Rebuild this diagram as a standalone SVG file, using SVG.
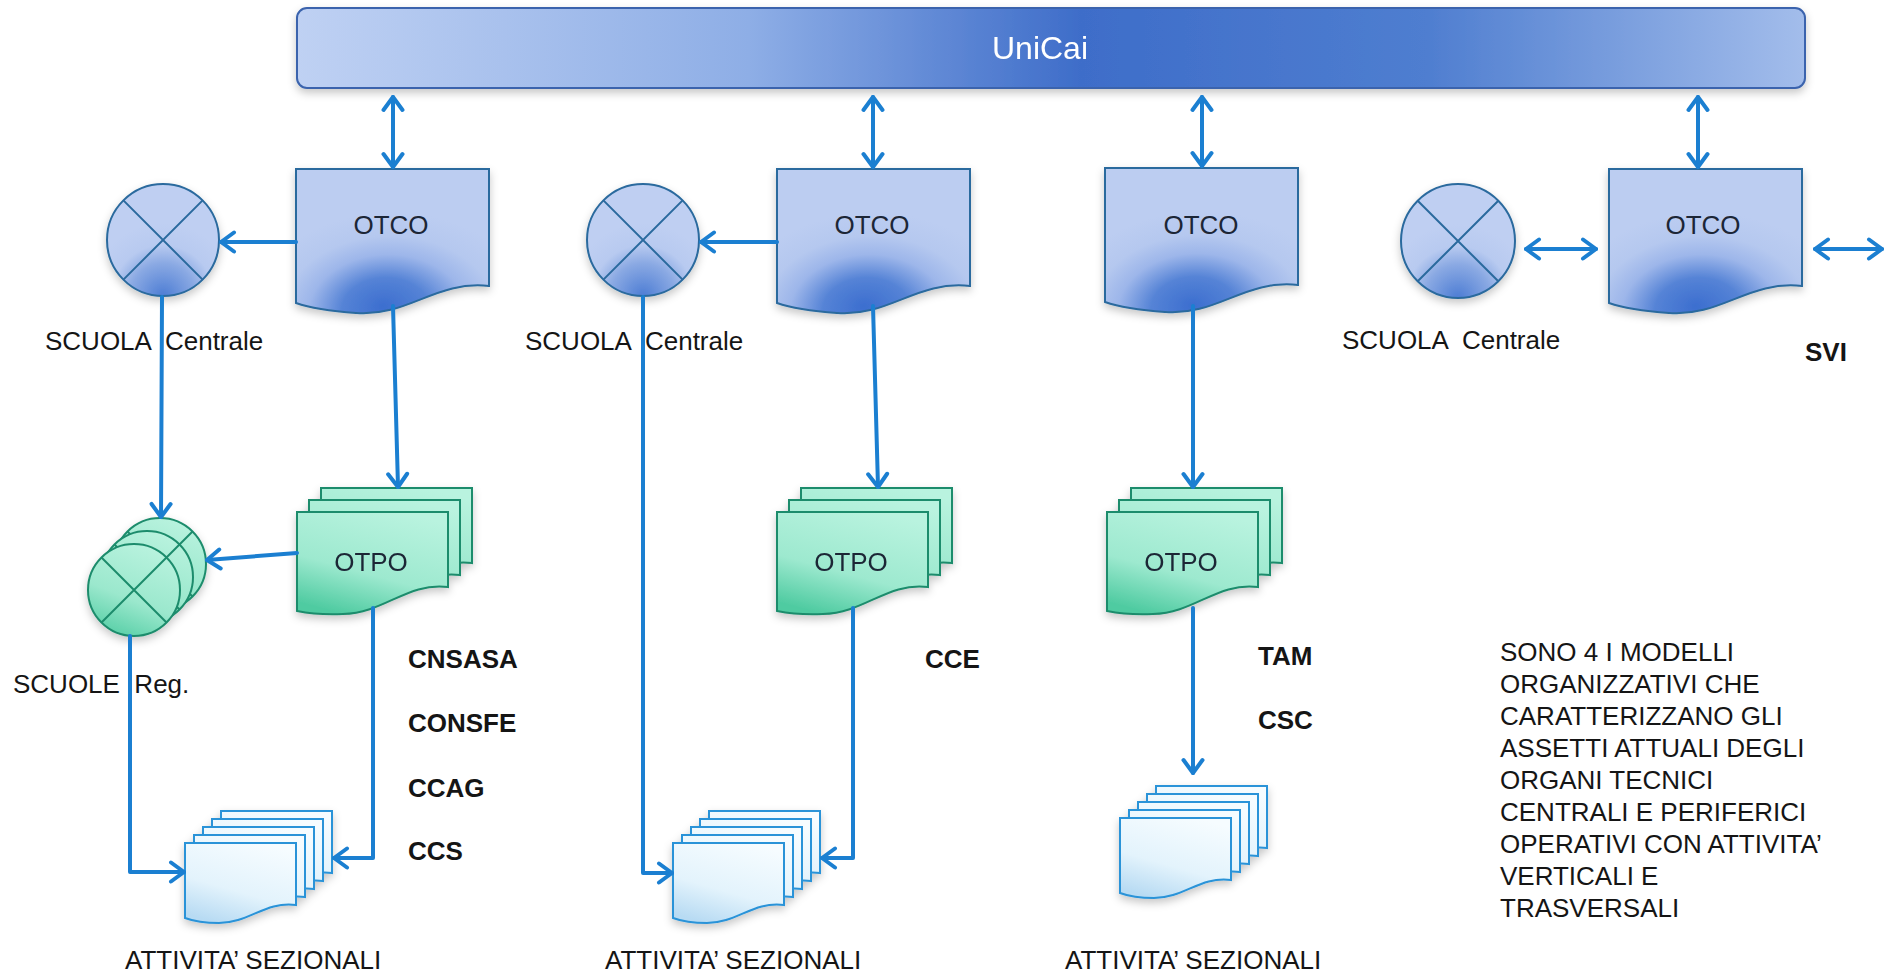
<svg xmlns="http://www.w3.org/2000/svg" xmlns:xlink="http://www.w3.org/1999/xlink" width="1887" height="975" viewBox="0 0 1887 975">
<style>
.lbl{font-family:"Liberation Sans",Arial,Helvetica,sans-serif;font-size:26px;fill:#151515;white-space:pre}
.b{font-weight:bold}
.in{font-family:"Liberation Sans",Arial,sans-serif;font-size:26px;fill:#1c2636;text-anchor:middle}
.conn{fill:none;stroke:#1b7fd1;stroke-width:4;stroke-linecap:round;stroke-linejoin:round}
.otco{fill:url(#gOtco);stroke:#2b6a9e;stroke-width:2}
.xc{fill:url(#gCirc);stroke:#2b6a9e;stroke-width:2}
.xl{fill:none;stroke:#2b6a9e;stroke-width:2}
.otpo{fill:url(#gOtpo);stroke:#1d8c6c;stroke-width:2}
.gc{fill:url(#gGreen);stroke:#1d8c6c;stroke-width:2}
.gl{fill:none;stroke:#1d8c6c;stroke-width:2}
.att{fill:url(#gAtt);stroke:#2a93d8;stroke-width:2}
</style>
<defs>
<linearGradient id="gBar" x1="0" y1="0" x2="1" y2="0">
<stop offset="0" stop-color="#bfd1f3"/>
<stop offset="0.3" stop-color="#8eaee6"/>
<stop offset="0.52" stop-color="#3e6dc9"/>
<stop offset="0.75" stop-color="#4f7ed0"/>
<stop offset="1" stop-color="#a3bdeb"/>
</linearGradient>
<radialGradient id="gOtco" cx="0.5" cy="1.05" r="0.75" fx="0.45" fy="0.95">
<stop offset="0" stop-color="#3c6ecf"/>
<stop offset="0.3" stop-color="#5583d6"/>
<stop offset="0.55" stop-color="#9db6ea"/>
<stop offset="0.75" stop-color="#b5c8ef"/>
<stop offset="1" stop-color="#bccdf1"/>
</radialGradient>
<radialGradient id="gCirc" cx="0.5" cy="1" r="0.65">
<stop offset="0" stop-color="#4d7dd4"/>
<stop offset="0.45" stop-color="#8aa9e3"/>
<stop offset="0.7" stop-color="#b8caf0"/>
<stop offset="1" stop-color="#bfcff2"/>
</radialGradient>
<linearGradient id="gOtpo" x1="0.7" y1="0" x2="0.3" y2="1">
<stop offset="0" stop-color="#b9f3df"/>
<stop offset="0.6" stop-color="#9de9cf"/>
<stop offset="1" stop-color="#4fcba1"/>
</linearGradient>
<linearGradient id="gGreen" x1="0.7" y1="0" x2="0.3" y2="1">
<stop offset="0" stop-color="#baf3df"/>
<stop offset="0.6" stop-color="#9be8cd"/>
<stop offset="1" stop-color="#58cfa7"/>
</linearGradient>
<linearGradient id="gAtt" x1="0.7" y1="0" x2="0.3" y2="1">
<stop offset="0" stop-color="#f6fcff"/>
<stop offset="0.6" stop-color="#e3f3fc"/>
<stop offset="1" stop-color="#b8dbf3"/>
</linearGradient>
<filter id="sh" x="-20%" y="-20%" width="140%" height="150%">
<feDropShadow dx="0" dy="4" stdDeviation="4" flood-color="#000" flood-opacity="0.22"/>
</filter>
<marker id="arr" viewBox="-16 -12 18 24" refX="0" refY="0" markerWidth="18" markerHeight="24" markerUnits="userSpaceOnUse" orient="auto-start-reverse">
<path d="M-13,-9.5 L0,0 L-13,9.5" fill="none" stroke="#1b7fd1" stroke-width="4" stroke-linecap="round" stroke-linejoin="round"/>
</marker>
<path id="docA" d="M0,0 H193 V117 C140,111 112,148 60,144 C32,142 14,139 0,134 Z"/>
<path id="docB" d="M0,0 H151 V75 C110,70 88,101 46,102 C24,103 10,101 0,99 Z"/>
<path id="docC" d="M0,0 H111 V62 C80,58 64,80 34,80 C19,80 8,78 0,75 Z"/>
</defs>
<rect width="1887" height="975" fill="#ffffff"/>

<g id="unicai" filter="url(#sh)">
<rect x="297" y="8" width="1508" height="80" rx="10" fill="url(#gBar)" stroke="#3a63ad" stroke-width="2"/>
<text x="1040" y="59" style="font-family:'Liberation Sans',Arial,sans-serif;font-size:32px;fill:#ffffff;text-anchor:middle">UniCai</text>
</g>

<!-- Section 1 -->
<g id="otco1"><use href="#docA" class="otco" x="296" y="169" filter="url(#sh)"/><text class="in" x="391" y="234">OTCO</text></g>
<g id="scuola1" filter="url(#sh)"><circle class="xc" cx="163" cy="240" r="56"/><path class="xl" d="M123.4,200.4 L202.6,279.6 M202.6,200.4 L123.4,279.6"/></g>
<text class="lbl" x="45" y="350">SCUOLA  Centrale</text>
<g id="otpo1" filter="url(#sh)">
<use href="#docB" class="otpo" x="321" y="488"/>
<use href="#docB" class="otpo" x="309" y="500"/>
<use href="#docB" class="otpo" x="297" y="512"/>
<text class="in" x="371" y="571">OTPO</text>
</g>
<g id="scuole-reg" filter="url(#sh)">
<circle class="gc" cx="160" cy="564" r="46"/><path class="gl" d="M127.5,531.5 L192.5,596.5 M192.5,531.5 L127.5,596.5"/>
<circle class="gc" cx="147" cy="577" r="46"/><path class="gl" d="M114.5,544.5 L179.5,609.5 M179.5,544.5 L114.5,609.5"/>
<circle class="gc" cx="134" cy="590" r="46"/><path class="gl" d="M101.5,557.5 L166.5,622.5 M166.5,557.5 L101.5,622.5"/>
</g>
<text class="lbl" x="13" y="693">SCUOLE  Reg.</text>
<g id="att1" filter="url(#sh)">
<use href="#docC" class="att" x="221" y="811"/>
<use href="#docC" class="att" x="212" y="819"/>
<use href="#docC" class="att" x="203" y="827"/>
<use href="#docC" class="att" x="194" y="835"/>
<use href="#docC" class="att" x="185" y="843"/>
</g>
<text class="lbl" x="125" y="969">ATTIVITA’ SEZIONALI</text>
<g id="labels1">
<text class="lbl b" x="408" y="668">CNSASA</text>
<text class="lbl b" x="408" y="732">CONSFE</text>
<text class="lbl b" x="408" y="797">CCAG</text>
<text class="lbl b" x="408" y="860">CCS</text>
</g>

<!-- Section 2 -->
<g id="otco2"><use href="#docA" class="otco" x="777" y="169" filter="url(#sh)"/><text class="in" x="872" y="234">OTCO</text></g>
<g id="scuola2" filter="url(#sh)"><circle class="xc" cx="643" cy="240" r="56"/><path class="xl" d="M603.4,200.4 L682.6,279.6 M682.6,200.4 L603.4,279.6"/></g>
<text class="lbl" x="525" y="350">SCUOLA  Centrale</text>
<g id="otpo2" filter="url(#sh)">
<use href="#docB" class="otpo" x="801" y="488"/>
<use href="#docB" class="otpo" x="789" y="500"/>
<use href="#docB" class="otpo" x="777" y="512"/>
<text class="in" x="851" y="571">OTPO</text>
</g>
<g id="att2" filter="url(#sh)">
<use href="#docC" class="att" x="709" y="811"/>
<use href="#docC" class="att" x="700" y="819"/>
<use href="#docC" class="att" x="691" y="827"/>
<use href="#docC" class="att" x="682" y="835"/>
<use href="#docC" class="att" x="673" y="843"/>
</g>
<text class="lbl" x="605" y="969">ATTIVITA’ SEZIONALI</text>
<text class="lbl b" x="925" y="668">CCE</text>

<!-- Section 3 -->
<g id="otco3"><use href="#docA" class="otco" x="1105" y="168" filter="url(#sh)"/><text class="in" x="1201" y="234">OTCO</text></g>
<g id="otpo3" filter="url(#sh)">
<use href="#docB" class="otpo" x="1131" y="488"/>
<use href="#docB" class="otpo" x="1119" y="500"/>
<use href="#docB" class="otpo" x="1107" y="512"/>
<text class="in" x="1181" y="571">OTPO</text>
</g>
<g id="att3" filter="url(#sh)">
<use href="#docC" class="att" x="1156" y="786"/>
<use href="#docC" class="att" x="1147" y="794"/>
<use href="#docC" class="att" x="1138" y="802"/>
<use href="#docC" class="att" x="1129" y="810"/>
<use href="#docC" class="att" x="1120" y="818"/>
</g>
<text class="lbl" x="1065" y="969">ATTIVITA’ SEZIONALI</text>
<text class="lbl b" x="1258" y="665">TAM</text>
<text class="lbl b" x="1258" y="729">CSC</text>

<!-- Section 4 -->
<g id="scuola4" filter="url(#sh)"><circle class="xc" cx="1458" cy="241" r="57"/><path class="xl" d="M1417.7,200.7 L1498.3,281.3 M1498.3,200.7 L1417.7,281.3"/></g>
<text class="lbl" x="1342" y="349">SCUOLA  Centrale</text>
<g id="otco4"><use href="#docA" class="otco" x="1609" y="169" filter="url(#sh)"/><text class="in" x="1703" y="234">OTCO</text></g>
<text class="lbl b" x="1805" y="361">SVI</text>

<g id="note">
<text class="lbl" x="1500" y="661">SONO 4 I MODELLI</text>
<text class="lbl" x="1500" y="693">ORGANIZZATIVI CHE</text>
<text class="lbl" x="1500" y="725">CARATTERIZZANO GLI</text>
<text class="lbl" x="1500" y="757">ASSETTI ATTUALI DEGLI</text>
<text class="lbl" x="1500" y="789">ORGANI TECNICI</text>
<text class="lbl" x="1500" y="821">CENTRALI E PERIFERICI</text>
<text class="lbl" x="1500" y="853">OPERATIVI CON ATTIVITA’</text>
<text class="lbl" x="1500" y="885">VERTICALI E</text>
<text class="lbl" x="1500" y="917">TRASVERSALI</text>
</g>

<g id="connectors">
<path class="conn" d="M393,97 L393,167" marker-start="url(#arr)" marker-end="url(#arr)"/>
<path class="conn" d="M296,242 L221,242" marker-end="url(#arr)"/>
<path class="conn" d="M162,297 L161,517" marker-end="url(#arr)"/>
<path class="conn" d="M393,306 L398,487" marker-end="url(#arr)"/>
<path class="conn" d="M297,553 L207,560" marker-end="url(#arr)"/>
<path class="conn" d="M130,636 L130,872 L184,872" marker-end="url(#arr)"/>
<path class="conn" d="M373,608 L373,858 L334,858" marker-end="url(#arr)"/>

<path class="conn" d="M873,97 L873,167" marker-start="url(#arr)" marker-end="url(#arr)"/>
<path class="conn" d="M777,242 L701,242" marker-end="url(#arr)"/>
<path class="conn" d="M873,306 L878,487" marker-end="url(#arr)"/>
<path class="conn" d="M643,297 L643,873 L672,873" marker-end="url(#arr)"/>
<path class="conn" d="M853,608 L853,858 L822,858" marker-end="url(#arr)"/>

<path class="conn" d="M1202,97 L1202,166" marker-start="url(#arr)" marker-end="url(#arr)"/>
<path class="conn" d="M1193,306 L1193,487" marker-end="url(#arr)"/>
<path class="conn" d="M1193,608 L1193,773" marker-end="url(#arr)"/>

<path class="conn" d="M1698,97 L1698,167" marker-start="url(#arr)" marker-end="url(#arr)"/>
<path class="conn" d="M1526,249 L1596,249" marker-start="url(#arr)" marker-end="url(#arr)"/>
<path class="conn" d="M1815,249 L1882,249" marker-start="url(#arr)" marker-end="url(#arr)"/>
</g>
</svg>
